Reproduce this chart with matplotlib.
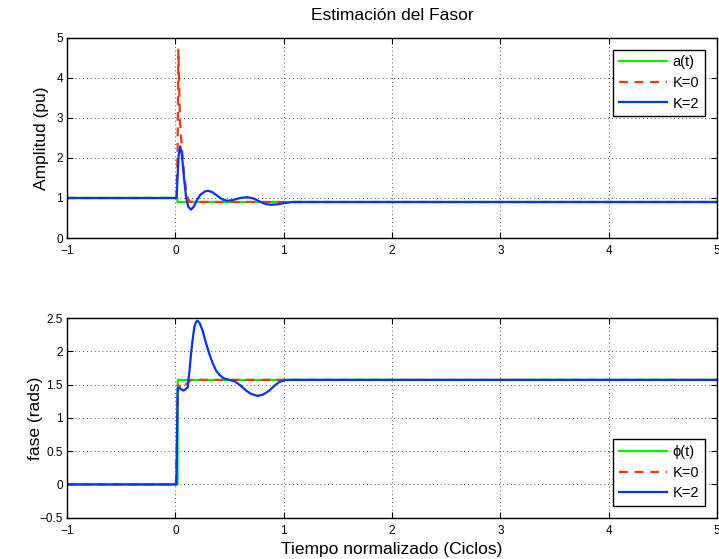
import numpy as np
from matplotlib import pyplot as plt

plt.rcParams['font.family'] = ['Liberation Sans', 'DejaVu Sans']

# amplitude panel (time in cycles)
t_amp_ref = [-1, 0.018, 0.02, 5]
amp_ref = [1.0, 1.0, 0.9, 0.9]

t_amp_k0 = [-1, 0.01, 0.02, 0.028, 0.037, 0.043, 0.055, 0.068, 0.083, 0.099, 0.115, 0.13, 0.15, 5]
amp_k0 = [1.0, 1.0, 2.0, 4.7, 3.6, 2.95, 2.45, 2.0, 1.55, 1.2, 1.0, 0.92, 0.9, 0.9]

t_amp_k2 = [-1, 0.012, 0.02, 0.03, 0.045, 0.06, 0.08, 0.1, 0.12, 0.145, 0.17, 0.2,
            0.23, 0.27, 0.30, 0.34, 0.38, 0.43, 0.48, 0.53, 0.6, 0.66, 0.72, 0.78,
            0.83, 0.88, 0.94, 1.0, 1.08, 1.2, 5]
amp_k2 = [1.0, 1.0, 1.5, 2.05, 2.29, 2.1, 1.5, 1.0, 0.78, 0.71, 0.78, 0.95,
          1.08, 1.16, 1.18, 1.15, 1.07, 0.97, 0.93, 0.95, 1.0, 1.02, 0.99, 0.91,
          0.85, 0.83, 0.84, 0.87, 0.9, 0.9, 0.9]

# phase panel
t_ph_ref = [-1, 0.02, 0.022, 5]
ph_ref = [0.0, 0.0, 1.57, 1.57]

t_ph_k0 = [-1, 0.005, 0.02, 0.03, 0.045, 0.06, 0.08, 0.1, 0.13, 0.15, 5]
ph_k0 = [0.0, 0.0, 1.2, 1.49, 1.46, 1.44, 1.47, 1.51, 1.55, 1.57, 1.57]

t_ph_k2 = [-1, 0.01, 0.021, 0.037, 0.055, 0.074, 0.095, 0.114, 0.13, 0.145, 0.16,
           0.175, 0.19, 0.206, 0.225, 0.252, 0.28, 0.314, 0.345, 0.376, 0.41,
           0.452, 0.5, 0.545, 0.6, 0.653, 0.7, 0.76, 0.81, 0.868, 0.92, 0.96, 1.02, 5]
ph_k2 = [0.0, 0.0, 1.44, 1.45, 1.43, 1.41, 1.43, 1.46, 1.7, 1.96, 2.18,
         2.36, 2.44, 2.46, 2.42, 2.31, 2.14, 1.96, 1.82, 1.71, 1.64,
         1.59, 1.57, 1.55, 1.49, 1.41, 1.36, 1.33, 1.35, 1.41, 1.49, 1.54, 1.57, 1.57]

green = "#00ee00"
red = "#ff3311"
blue = "#0033ff"

fig = plt.figure(figsize=(7.19, 5.59), dpi=100)
ax1 = fig.add_axes([0.0932, 0.5742, 0.904, 0.358])
ax2 = fig.add_axes([0.0932, 0.0739, 0.904, 0.3572])

ax1.plot(t_amp_ref, amp_ref, color=green, lw=1.6, label="a(t)")
ax1.plot(t_amp_k0, amp_k0, color=red, lw=1.6, ls=(0, (4, 3)), label="K=0")
ax1.plot(t_amp_k2, amp_k2, color=blue, lw=1.6, label="K=2")
ax1.set_xlim(-1, 5)
ax1.set_ylim(0, 5)
ax1.set_title("Estimación del Fasor", fontsize=12.5, pad=13)
ax1.set_ylabel("Amplitud (pu)", fontsize=12.5)

ax2.plot(t_ph_ref, ph_ref, color=green, lw=1.6, label="ϕ(t)")
ax2.plot(t_ph_k0, ph_k0, color=red, lw=1.6, ls=(0, (4, 3)), label="K=0")
ax2.plot(t_ph_k2, ph_k2, color=blue, lw=1.6, label="K=2")
ax2.set_xlim(-1, 5)
ax2.set_ylim(-0.5, 2.5)
ax2.set_yticks([-0.5, 0, 0.5, 1, 1.5, 2, 2.5])
ax2.set_yticklabels(["\u22120.5", "0", "0.5", "1", "1.5", "2", "2.5"])
ax2.set_ylabel("fase (rads)", fontsize=12.5)
ax2.set_xlabel("Tiempo normalizado (Ciclos)", fontsize=12.5, labelpad=4)

for ax in (ax1, ax2):
    ax.set_xticks(range(-1, 6))
    ax.set_xticklabels(["\u22121", "0", "1", "2", "3", "4", "5"])
    ax.tick_params(direction="in", top=True, right=True, labelsize=8.5, length=4)
    ax.tick_params(axis="x", pad=5)
    ax.tick_params(axis="y", pad=3)
    ax.grid(True, ls=(0, (1, 3)), color="#555555", lw=0.7)
    for s in ax.spines.values():
        s.set_linewidth(1.0)

ax1.yaxis.set_label_coords(-0.028, 0.5)
ax2.yaxis.set_label_coords(-0.037, 0.5)

leg_kw = dict(fontsize=10.5, fancybox=False, edgecolor="black", framealpha=1,
              borderaxespad=0.8, handlelength=3.3, handletextpad=0.4, labelspacing=0.45)
ax1.legend(loc="upper right", **leg_kw)
ax2.legend(loc="lower right", **leg_kw)

fig.savefig("out.png", dpi=100)
